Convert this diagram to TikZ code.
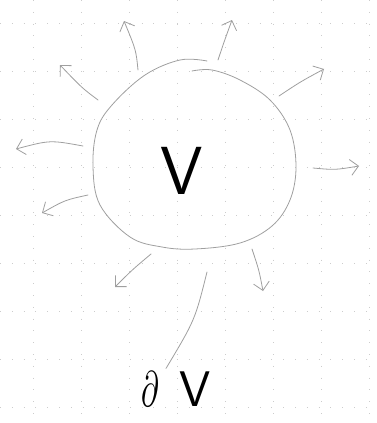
\documentclass[tikz,border=0pt]{standalone}
\usepackage{amsmath}
\usepackage{amssymb}
\usepackage{graphicx}
\usepackage{tikz}
\usetikzlibrary{arrows.meta}

\tikzset{
  gridline/.style={gray!40, line width=0.6pt, dash pattern=on 0.8pt off 11pt},
  pencil/.style={gray!75, line width=0.8pt, line cap=round},
  flux/.style={pencil, -{Straight Barb[length=8pt, width=16pt, line width=0.8pt]}},
}

\begin{document}
\begin{tikzpicture}[x=1pt, y=-1pt]

    \useasboundingbox (0,0) rectangle (376,423);

    % Dotted paper
    \foreach \yy in {23,71,119,167,215,263,311,359,407}
      \draw[gridline] (0,\yy) -- (376,\yy);
    \foreach \xx in {33,81,129,177,225,273,321,369}
      \draw[gridline] (\xx,0) -- (\xx,423);

    % The region (open at the top)
    \draw[pencil] plot[smooth, tension=0.6] coordinates {
      (207,61) (180,60) (145,75) (112,105) (97,130) (93,167)
      (100,205) (130,237) (162,247) (195,249) (240,243)
      (272,226) (290,200) (296,167) (290,130) (270,100)
      (240,80) (212,70) (192,71)};

    % Volume label
    \node[inner sep=0pt] (vol) at (182,171)
      {\fontsize{68}{70}\selectfont\sffamily V};

    % Outward arrows
    \draw[flux] (138,70) .. controls (136,50) .. (124,21);
    \draw[flux] (218,60) .. controls (224,42) .. (232,20);
    \draw[flux] (98,100) .. controls (82,88) .. (60,65);
    \draw[flux] (279,96) .. controls (300,82) .. (324,69);
    \draw[flux] (83,146) .. controls (50,140) .. (16,149);
    \draw[flux] (313,168) .. controls (335,170) .. (359,166);
    \draw[flux] (88,195) .. controls (65,200) .. (42,213);
    \draw[flux] (151,254) .. controls (132,270) .. (115,287);
    \draw[flux] (252,249) .. controls (259,270) .. (263,291);

    % Boundary label
    \node[inner sep=0pt] (bnd) at (176,389)
      {\scalebox{3}[5]{$\partial$}\hspace{20pt}{\fontsize{50}{52}\selectfont\sffamily V}};
    \coordinate (rim) at (207,272);
    \draw[pencil] (rim) .. controls (195,320) .. ([xshift=-10pt, yshift=3pt]bnd.north);

\end{tikzpicture}
\end{document}
